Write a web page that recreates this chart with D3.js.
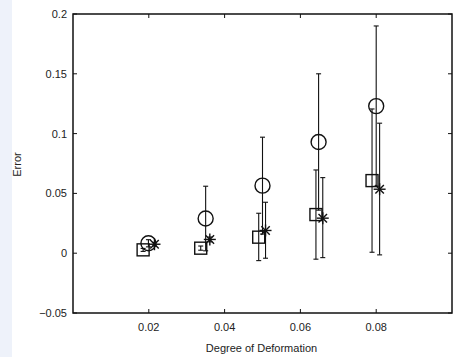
<!DOCTYPE html>
<html lang="en">
<head>
<meta charset="utf-8">
<title>Error vs Degree of Deformation</title>
<script src="https://cdnjs.cloudflare.com/ajax/libs/d3/7.8.5/d3.min.js"></script>
<style>
  body { margin: 0; background: #fff; }
  text { font-family: "Liberation Sans", Arial, sans-serif; fill: #222; }
</style>
</head>
<body>
<script>
// data
var xTicks = [0.02, 0.04, 0.06, 0.08];
var yTicks = [-0.05, 0, 0.05, 0.1, 0.15, 0.2];
var yTickLabels = ["\u22120.05", "0", "0.05", "0.1", "0.15", "0.2"];

// circle series: x, mean, error
var circleX = [0.0199, 0.035, 0.0500, 0.0648, 0.0800];
var circleY = [0.0083, 0.0290, 0.0565, 0.0930, 0.1230];
var circleErr = [0.003, 0.027, 0.0405, 0.057, 0.067];

// square series: x, mean, low, high
var squareX = [0.0185, 0.0337, 0.0490, 0.0641, 0.0789];
var squareY = [0.0028, 0.0042, 0.0134, 0.0323, 0.0607];
var squareLo = [0.0015, 0.0025, -0.0062, -0.0050, 0.0008];
var squareHi = [0.0040, 0.0060, 0.0334, 0.0696, 0.1206];

// asterisk series
var starX = [0.0215, 0.0361, 0.0508, 0.0659, 0.0809];
var starY = [0.0075, 0.0115, 0.0190, 0.0293, 0.0535];
var starLo = [0.0060, 0.0095, -0.0042, -0.0037, -0.0014];
var starHi = [0.0090, 0.0135, 0.0426, 0.0632, 0.1087];

var w = 453, h = 357;
var m = {top: 14, right: 1, bottom: 44, left: 73};

var svg = d3.select("body").append("svg")
  .attr("width", w).attr("height", h);

// pale strip at the left edge of the scan
svg.append("rect").attr("x", 0).attr("y", 0).attr("width", 12).attr("height", h)
  .attr("fill", "#eef2fa");

var x = d3.scaleLinear().domain([0, 0.1]).range([m.left, w - m.right]);
var y = d3.scaleLinear().domain([-0.05, 0.2]).range([h - m.bottom, m.top]);

var ink = "#111";
var tl = 4;

// ticks on all four sides, pointing in
var tk = svg.append("g").attr("stroke", ink).attr("stroke-width", 1);
xTicks.forEach(function(t) {
  tk.append("line").attr("x1", x(t)).attr("x2", x(t)).attr("y1", y(-0.05)).attr("y2", y(-0.05) - tl);
  tk.append("line").attr("x1", x(t)).attr("x2", x(t)).attr("y1", y(0.2)).attr("y2", y(0.2) + tl);
});
yTicks.forEach(function(t) {
  tk.append("line").attr("x1", x(0)).attr("x2", x(0) + tl).attr("y1", y(t)).attr("y2", y(t));
  tk.append("line").attr("x1", x(0.1)).attr("x2", x(0.1) - tl).attr("y1", y(t)).attr("y2", y(t));
});

svg.append("rect")
  .attr("x", x(0)).attr("y", y(0.2))
  .attr("width", x(0.1) - x(0)).attr("height", y(-0.05) - y(0.2))
  .attr("fill", "none").attr("stroke", ink).attr("stroke-width", 1.5);

// tick labels
svg.selectAll(".xl").data(xTicks).enter().append("text")
  .attr("x", function(d) { return x(d); })
  .attr("y", y(-0.05) + 18)
  .attr("text-anchor", "middle").attr("font-size", 11)
  .text(function(d) { return d3.format(".2f")(d); });

svg.selectAll(".yl").data(yTicks).enter().append("text")
  .attr("x", x(0) - 6)
  .attr("y", function(d) { return y(d) + 4; })
  .attr("text-anchor", "end").attr("font-size", 11)
  .text(function(d, i) { return yTickLabels[i]; });

svg.append("text")
  .attr("x", (x(0) + x(0.1)) / 2 - 1).attr("y", h - 5)
  .attr("text-anchor", "middle").attr("font-size", 11)
  .text("Degree of Deformation");

svg.append("text")
  .attr("transform", "translate(21," + ((y(-0.05) + y(0.2)) / 2 + 1) + ") rotate(-90)")
  .attr("text-anchor", "middle").attr("font-size", 11)
  .text("Error");

// error bars
function errBars(xs, lo, hi, cap) {
  var g = svg.append("g").attr("stroke", ink).attr("stroke-width", 1.1);
  xs.forEach(function(xv, i) {
    g.append("line").attr("x1", x(xv)).attr("x2", x(xv)).attr("y1", y(lo[i])).attr("y2", y(hi[i]));
    [lo[i], hi[i]].forEach(function(v) {
      g.append("line").attr("x1", x(xv) - cap).attr("x2", x(xv) + cap).attr("y1", y(v)).attr("y2", y(v));
    });
  });
}
errBars(circleX, circleY.map(function(v, i) { return v - circleErr[i]; }),
  circleY.map(function(v, i) { return v + circleErr[i]; }), 2.5);
errBars(squareX, squareLo, squareHi, 2.5);
errBars(starX, starLo, starHi, 2.5);

// markers
svg.append("g").selectAll("rect").data(squareX).enter().append("rect")
  .attr("x", function(d) { return x(d) - 6; })
  .attr("y", function(d, i) { return y(squareY[i]) - 6; })
  .attr("width", 12).attr("height", 12)
  .attr("fill", "none").attr("stroke", ink).attr("stroke-width", 1.4);

svg.append("g").selectAll("circle").data(circleX).enter().append("circle")
  .attr("cx", function(d) { return x(d); })
  .attr("cy", function(d, i) { return y(circleY[i]); })
  .attr("r", 7.5)
  .attr("fill", "none").attr("stroke", ink).attr("stroke-width", 1.4);

var star = svg.append("g").attr("stroke", ink).attr("stroke-width", 1.4);
starX.forEach(function(d, i) {
  var cx = x(d), cy = y(starY[i]), r = 6;
  [0, 45, 90, 135].forEach(function(a) {
    var rad = a * Math.PI / 180;
    star.append("line")
      .attr("x1", cx - r * Math.cos(rad)).attr("y1", cy - r * Math.sin(rad))
      .attr("x2", cx + r * Math.cos(rad)).attr("y2", cy + r * Math.sin(rad));
  });
});
</script>
</body>
</html>
